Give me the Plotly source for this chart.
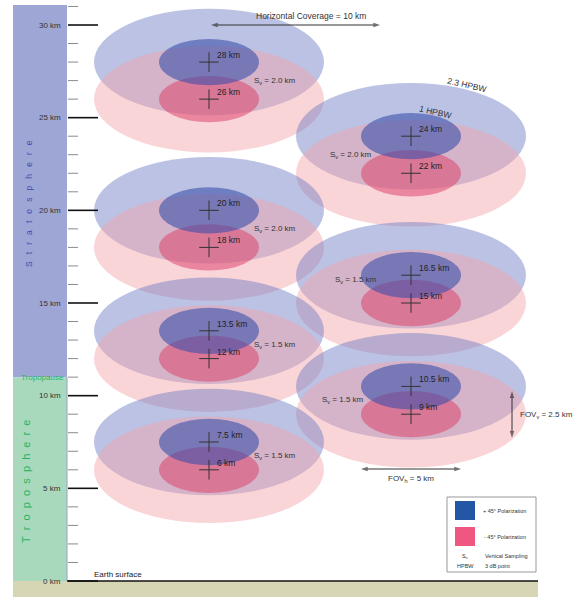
import plotly.graph_objects as go

# ---------------- data ----------------
left_upper_km = [28, 20, 13.5, 7.5]      # +45 deg polarization beam centres, left column
left_lower_km = [26, 18, 12, 6]          # -45 deg polarization beam centres, left column
left_sv_km = [2.0, 2.0, 1.5, 1.5]        # vertical sampling per pair
right_upper_km = [24, 16.5, 10.5]
right_lower_km = [22, 15, 9]
right_sv_km = [2.0, 1.5, 1.5]
fov_h_km = 5.0
fov_v_km = 2.5
hpbw_outer_factor = 2.3
horizontal_coverage_km = 10
major_ticks_km = [0, 5, 10, 15, 20, 25, 30]
minor_ticks_km = [k for k in range(1, 32) if k % 5 != 0]
tropopause_km = 11.0

# ---------------- geometry helpers (pixel -> data for decorations) ----------------
W, H = 579, 597
PXKM_X = 20.0
PXKM_Y = 556.0 / 30.0
def X(px):
    return px / PXKM_X
def Y(py):
    return (581 - py) / PXKM_Y

LEFT_CX = X(209)
RIGHT_CX = X(411)

FONT = "Arial, Liberation Sans, sans-serif"
BIG_BLUE = "rgba(107,120,195,0.45)"
BIG_PINK = "rgba(244,162,169,0.45)"
INNER_PINK = "rgba(220,70,110,0.55)"
INNER_BLUE = "rgba(60,80,170,0.6)"

shapes = []
annotations = []
traces = []

def rect(x0, y0, x1, y1, color, line=None):
    shapes.append(dict(type="rect", xref="x", yref="y", x0=x0, x1=x1, y0=y0, y1=y1,
                       fillcolor=color, line=line or dict(width=0), layer="below"))

def line(x0, y0, x1, y1, color, width):
    shapes.append(dict(type="line", xref="x", yref="y", x0=x0, x1=x1, y0=y0, y1=y1,
                       line=dict(color=color, width=width), layer="below"))

def ellipse(cx, cy, w, h, color):
    shapes.append(dict(type="circle", xref="x", yref="y", x0=cx - w / 2, x1=cx + w / 2,
                       y0=cy - h / 2, y1=cy + h / 2, fillcolor=color, line=dict(width=0),
                       layer="below"))

def text(x, y, t, size=8, color="#333", xanchor="center", angle=0, yanchor="middle"):
    annotations.append(dict(x=x, y=y, xref="x", yref="y", text=t, showarrow=False,
                            font=dict(family=FONT, size=size, color=color),
                            xanchor=xanchor, yanchor=yanchor, textangle=angle))

def arrow(x0, y0, x1, y1):
    xm, ym = (x0 + x1) / 2, (y0 + y1) / 2
    for xe, ye in ((x0, y0), (x1, y1)):
        traces.append(go.Scatter(x=[xm, xe], y=[ym, ye], mode="lines+markers",
                                 line=dict(color="#333", width=1), hoverinfo="skip",
                                 marker=dict(symbol="arrow", size=[0, 7], angleref="previous",
                                             color="#333", line=dict(width=0)),
                                 showlegend=False))

# ---------------- atmosphere column and ground ----------------
rect(X(13), Y(5), X(67), tropopause_km, "#9ea6d6")
rect(X(13), tropopause_km, X(67), 0, "#a8d9bd")
line(X(67), 0, X(67), tropopause_km, "#95a0cf", 1)
rect(X(13), Y(597), X(538), 0, "#d6d6b5")

# ---------------- beams ----------------
pairs = []
for u, l, s in zip(left_upper_km, left_lower_km, left_sv_km):
    pairs.append((LEFT_CX, u, l, s, "L"))
for u, l, s in zip(right_upper_km, right_lower_km, right_sv_km):
    pairs.append((RIGHT_CX, u, l, s, "R"))
pairs.sort(key=lambda p: -p[1])

for cx, u, l, s, side in pairs:
    ellipse(cx, u, fov_h_km * hpbw_outer_factor, fov_v_km * hpbw_outer_factor, BIG_BLUE)
    ellipse(cx, l, fov_h_km * hpbw_outer_factor, fov_v_km * hpbw_outer_factor, BIG_PINK)
    ellipse(cx, l, fov_h_km, fov_v_km, INNER_PINK)
    ellipse(cx, u, fov_h_km, fov_v_km, INNER_BLUE)

# sampling labels
for cx, u, l, s, side in pairs:
    ym = (u + l) / 2
    if side == "L":
        text(X(252), ym, f"S<sub>v</sub> = {s:.1f} km", 8, xanchor="left")
    else:
        if u == 16.5:
            ym = Y(280)
            text(X(333), ym, f"S<sub>v</sub> = {s:.1f} km", 8, xanchor="left")
        elif u == 24:
            text(X(328), ym, f"S<sub>v</sub> = {s:.1f} km", 8, xanchor="left")
        else:
            text(X(320), ym, f"S<sub>v</sub> = {s:.1f} km", 8, xanchor="left")

# centre labels
for cx, u, l, s, side in pairs:
    for v in (u, l):
        text(cx + 0.28, v + 0.38, f"{v:g} km", 8.5, color="#222", xanchor="left")

# ---------------- altitude ticks ----------------
for k in minor_ticks_km:
    line(X(68), k, X(78), k, "#8a8a8a", 1)
for k in major_ticks_km:
    line(X(68), k, X(98), k, "#111", 1.6)
    text(X(63), k, f"{k} km", 8, color="#333", xanchor="right")

line(X(67), 0, X(538), 0, "#111", 1.6)

# ---------------- column texts ----------------
sp3 = "\u00a0\u00a0\u00a0"
text(X(29), Y(204), sp3.join("Stratosphere"), 8.5, color="#3f4fb0", angle=-90)
sp2 = "\u00a0\u00a0"
text(X(26), Y(481), sp2.join("Troposphere"), 11, color="#2bb35f", angle=-90)
text(X(66), Y(377), "Tropopause", 8, color="#2bb35f", xanchor="right")
text(X(92), Y(574), "Earth surface", 8, color="#222", xanchor="left")

# ---------------- dimension annotations ----------------
arrow(X(211), Y(25), X(380), Y(25))
text(X(311), Y(16), f"Horizontal Coverage = {horizontal_coverage_km} km", 8.5, xanchor="center")

text(X(467), Y(85), f"{hpbw_outer_factor} HPBW", 8.5, angle=13)
text(X(435), Y(112), "1 HPBW", 8.5, angle=13)

fx = X(512)
fy_mid = Y(414.5)
arrow(fx, fy_mid + fov_v_km / 2, fx, fy_mid - fov_v_km / 2)
text(X(518), fy_mid, f"FOV<sub>v</sub> = {fov_v_km} km", 8, xanchor="left")

hy = Y(469)
arrow(RIGHT_CX - fov_h_km / 2, hy, RIGHT_CX + fov_h_km / 2, hy)
text(RIGHT_CX, Y(479), f"FOV<sub>h</sub> = {fov_h_km:g} km", 8, xanchor="center")

# ---------------- legend box ----------------
shapes.append(dict(type="rect", xref="x", yref="y", x0=X(447), x1=X(536), y0=Y(572), y1=Y(497),
                   fillcolor="white", line=dict(color="#999", width=1), layer="below"))
shapes.append(dict(type="rect", xref="x", yref="y", x0=X(455), x1=X(475), y0=Y(520), y1=Y(501),
                   fillcolor="#2456a6", line=dict(width=0), layer="below"))
shapes.append(dict(type="rect", xref="x", yref="y", x0=X(455), x1=X(475), y0=Y(546), y1=Y(527),
                   fillcolor="#ef5680", line=dict(width=0), layer="below"))
text(X(481), Y(511), "+ 45° Polarization", 5.5, xanchor="left")
text(X(482), Y(537), "- 45° Polarization", 5.5, xanchor="left")
text(X(465), Y(556), "S<sub>v</sub>", 5.5)
text(X(483), Y(556), "Vertical Sampling", 5.5, xanchor="left")
text(X(465), Y(566), "HPBW", 5.5)
text(X(483), Y(566), "3 dB point", 5.5, xanchor="left")

# ---------------- beam centre crosses (markers) ----------------
cx_list, cy_list = [], []
for cx, u, l, s, side in pairs:
    cx_list += [cx, cx]
    cy_list += [u, l]

fig = go.Figure()
fig.add_trace(go.Scatter(x=cx_list, y=cy_list, mode="markers", hoverinfo="skip",
                         marker=dict(symbol="cross-thin-open", size=14,
                                     line=dict(color="#333", width=1), color="#333"),
                         showlegend=False))
for t in traces:
    fig.add_trace(t)

fig.update_layout(
    width=W, height=H,
    margin=dict(l=0, r=0, t=0, b=0),
    paper_bgcolor="white", plot_bgcolor="white",
    xaxis=dict(range=[0, W / PXKM_X], visible=False, fixedrange=True),
    yaxis=dict(range=[Y(H), Y(0)], visible=False, fixedrange=True),
    shapes=shapes, annotations=annotations, showlegend=False,
)
fig.write_html("out.html", config={"displayModeBar": False},
               post_script="document.body.style.margin='0';document.body.style.overflow='hidden';")
